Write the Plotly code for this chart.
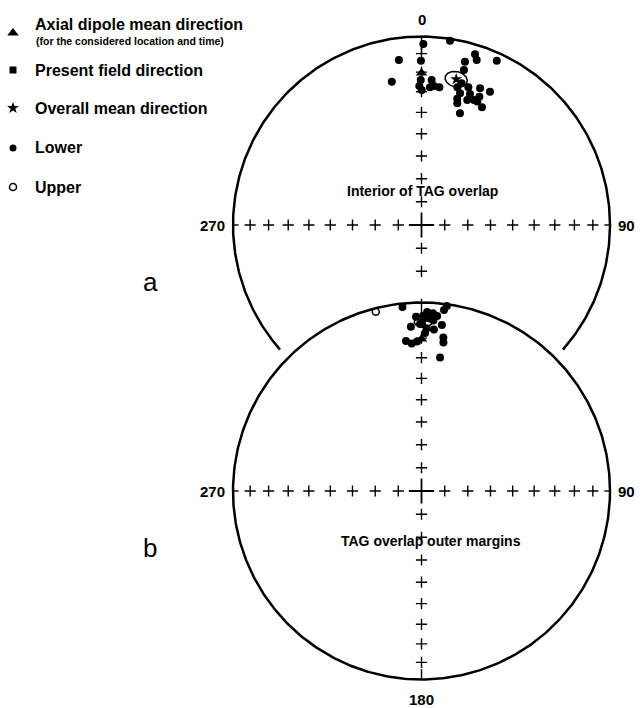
import numpy as np
import plotly.graph_objects as go

W, H = 641, 708
S = 188.5              # pixels per unit radius of each net
CX, CY = 421.5, 225.0  # pixel centre of net a
B_OFF = -266.0 / S     # vertical offset of net b centre (data units)
FONT = "Liberation Sans, Arial, sans-serif"

# ---- Net a: interior of TAG overlap (lower hemisphere, degrees) ----
a_dec = [0.6, 8.8, 352.2, 359.8, 348.3, 359.7, 359.1, 0.1, 4.0, 3.5, 5.1, 7.4,
         14.9, 15.3, 17.4, 18.5, 24.6, 14.6, 16.3, 15.8, 16.4, 19.0, 18.8, 20.3,
         22.8, 23.2, 24.3, 27.2, 27.2, 24.3, 20.1, 15.8]
a_inc = [4.5, 1.2, 12.7, 13.9, 23.4, 24.1, 27.1, 29.2, 23.9, 27.6, 26.9, 27.2,
         11.3, 15.8, 5.7, 8.5, 4.6, 25.5, 28.0, 31.0, 33.2, 37.4, 23.9, 26.8,
         28.9, 22.2, 26.3, 30.5, 21.6, 28.9, 30.1, 22.9]
a_mean_dec, a_mean_inc, a_alpha95 = 13.4, 21.6, 4.0

# ---- Net b: TAG overlap outer margins ----
b_dec = [354.1, 358.2, 1.8, 3.7, 7.1, 2.8, 359.5, 4.0, 7.0, 356.3, 1.8, 4.4,
         356.2, 358.3, 8.1, 8.4, 7.9, 0.5, 5.1, 7.8, 1.3, 354.1]
b_inc = [2.1, 8.3, 5.6, 6.2, 3.7, 9.3, 12.4, 10.3, 12.3, 13.7, 14.7, 15.2,
         22.6, 21.8, 18.9, 21.5, 29.2, 7.9, 7.6, 1.1, 17.3, 21.1]
b_up_dec = [345.7]
b_up_inc = [-2.1]
b_mean_dec, b_mean_inc, b_alpha95 = 0.6, 11.2, 3.0

# Axial dipole direction for the site
dipole_dec, dipole_inc = 0.0, 20.5

# Graticule inclinations marked along the N-S and E-W diameters
grid_inc = [80, 70, 60, 50, 40, 30, 20, 10]


def proj(dec, inc):
    """Schmidt equal-area projection, unit primitive circle."""
    d = np.radians(np.asarray(dec, float))
    i = np.radians(np.abs(np.asarray(inc, float)))
    r = np.sqrt(2.0) * np.sin((np.pi / 2 - i) / 2)
    return r * np.sin(d), r * np.cos(d)


def cone(dec, inc, a95, n=121):
    D, I = np.radians(dec), np.radians(inc)
    m = np.array([np.cos(I) * np.cos(D), np.cos(I) * np.sin(D), np.sin(I)])
    u = np.array([-np.sin(I) * np.cos(D), -np.sin(I) * np.sin(D), np.cos(I)])
    v = np.array([-np.sin(D), np.cos(D), 0.0])
    t = np.linspace(0, 2 * np.pi, n)
    a = np.radians(a95)
    vec = (np.cos(a) * m[:, None]
           + np.sin(a) * (np.cos(t) * u[:, None] + np.sin(t) * v[:, None]))
    inc_c = np.degrees(np.arcsin(vec[2]))
    dec_c = np.degrees(np.arctan2(vec[1], vec[0]))
    return proj(dec_c, inc_c)


fig = go.Figure()
LINE = dict(color="black", width=2.5)

# Primitive circles: net a is cut where net b overlaps it
th_int = np.degrees(np.arcsin(B_OFF / 2))          # intersection angle
gap = 3.5
th = np.radians(np.linspace(th_int + gap, 180 - th_int - gap, 400))
fig.add_trace(go.Scatter(x=np.cos(th), y=np.sin(th), mode="lines",
                         line=LINE, hoverinfo="skip"))
th = np.linspace(0, 2 * np.pi, 500)
fig.add_trace(go.Scatter(x=np.cos(th), y=B_OFF + np.sin(th), mode="lines",
                         line=LINE, hoverinfo="skip"))


# Graticule crosses
def crosses(y0, dirs, incs):
    xs, ys = [], []
    for d in dirs:
        x, y = proj([d] * len(incs), incs)
        xs += list(x)
        ys += list(y0 + y)
    return xs, ys


cx, cy = [], []
for (y0, spec) in [(0.0, [([0, 90, 270], grid_inc), ([180], [80, 70])]),
                   (B_OFF, [([0, 90, 180, 270], grid_inc)])]:
    for dirs, incs in spec:
        x, y = crosses(y0, dirs, incs)
        cx += x
        cy += y
fig.add_trace(go.Scatter(x=cx, y=cy, mode="markers", hoverinfo="skip",
                         marker=dict(symbol="cross-thin", size=8,
                                     line=dict(color="black", width=1.4))))
fig.add_trace(go.Scatter(x=[0, 0], y=[0, B_OFF], mode="markers", hoverinfo="skip",
                         marker=dict(symbol="cross-thin", size=18,
                                     line=dict(color="black", width=1.8))))


# Short ticks at the cardinal points of the primitive circles
def seg(y0, dec, r0, r1):
    d = np.radians(dec)
    return ([r0 * np.sin(d), r1 * np.sin(d), None],
            [y0 + r0 * np.cos(d), y0 + r1 * np.cos(d), None])


tx, ty = [], []
for y0, d, r in [(0, 0, 0.915), (0, 90, 0.97), (0, 270, 0.97),
                 (B_OFF, 0, 0.92), (B_OFF, 90, 0.97), (B_OFF, 270, 0.97),
                 (B_OFF, 180, 0.945)]:
    x, y = seg(y0, d, 1.0, r)
    tx += x
    ty += y
# remnant of the 60 degree mark south of net a centre
r60 = float(proj(180, 60)[1])
x, y = seg(0, 180, -r60 + 0.025, -r60 + 0.04)
tx += x
ty += y
fig.add_trace(go.Scatter(x=tx, y=ty, mode="lines", hoverinfo="skip",
                         line=dict(color="black", width=1.4)))

# Confidence circles about the means
for y0, md, mi, a95 in [(0.0, a_mean_dec, a_mean_inc, a_alpha95),
                        (B_OFF, b_mean_dec, b_mean_inc, b_alpha95)]:
    x, y = cone(md, mi, a95)
    fig.add_trace(go.Scatter(x=x, y=y0 + y, mode="lines", hoverinfo="skip",
                             line=dict(color="black", width=1.5)))

# Axial dipole direction
for y0 in (0.0, B_OFF):
    x, y = proj([dipole_dec], [dipole_inc])
    fig.add_trace(go.Scatter(x=x, y=y0 + y, mode="markers", hoverinfo="skip",
                             marker=dict(symbol="triangle-up", size=10, color="black")))

# Lower-hemisphere directions
for y0, dd, ii in [(0.0, a_dec, a_inc), (B_OFF, b_dec, b_inc)]:
    x, y = proj(dd, ii)
    fig.add_trace(go.Scatter(x=x, y=y0 + y, mode="markers", hoverinfo="skip",
                             marker=dict(symbol="circle", size=8, color="black")))

# Upper-hemisphere directions
x, y = proj(b_up_dec, b_up_inc)
fig.add_trace(go.Scatter(x=x, y=B_OFF + y, mode="markers", hoverinfo="skip",
                         marker=dict(symbol="circle-open", size=7, color="black",
                                     line=dict(color="black", width=1.5))))

# Mean directions (stars)
for y0, md, mi in [(0.0, a_mean_dec, a_mean_inc), (B_OFF, b_mean_dec, b_mean_inc)]:
    x, y = proj([md], [mi])
    fig.add_trace(go.Scatter(x=x, y=y0 + y, mode="markers", hoverinfo="skip",
                             marker=dict(symbol="star", size=9, color="black")))


# ---- Key ----
def to_data(px, py):
    return (px - CX) / S, (CY - py) / S


key = [("triangle-up", 10, 33, 25, "Axial dipole mean direction"),
       ("square", 7, 70, 70, "Present field direction"),
       ("star", 9, 108, 108, "Overall mean direction"),
       ("circle", 7, 148, 148, "Lower"),
       ("circle-open", 7, 187, 187, "Upper")]
anns = []


def label(text, px, py, size, xanchor="center", weight="bold"):
    anns.append(dict(text=text, x=px / W, y=1 - py / H, xref="paper", yref="paper",
                     showarrow=False, xanchor=xanchor, yanchor="middle",
                     font=dict(family=FONT, size=size, color="black", weight=weight)))


for sym, sz, my, ty_, text in key:
    x, y = to_data(13, my)
    mk = dict(symbol=sym, size=sz, color="black")
    if sym == "circle-open":
        mk["line"] = dict(color="black", width=1.5)
    fig.add_trace(go.Scatter(x=[x], y=[y], mode="markers", hoverinfo="skip", marker=mk))
    label(text, 33, ty_, 16, xanchor="left")
label("(for the considered location and time)", 34, 41, 10.5, xanchor="left")

# Net annotations
label("0", 421.5, 19, 15)
label("270", 227, 225, 15, xanchor="right")
label("90", 616, 225, 15, xanchor="left")
label("270", 227, 491, 15, xanchor="right")
label("90", 616, 491, 15, xanchor="left")
label("180", 421.5, 699, 15)
label("Interior of TAG overlap", 422, 191, 14)
label("TAG overlap outer margins", 431, 541, 14)
label("a", 150, 282, 26, weight="normal")
label("b", 150, 548, 26, weight="normal")

fig.update_layout(
    width=W, height=H, margin=dict(l=0, r=0, t=0, b=0),
    paper_bgcolor="white", plot_bgcolor="white", showlegend=False,
    annotations=anns,
    xaxis=dict(range=[-CX / S, (W - CX) / S], visible=False, fixedrange=True),
    yaxis=dict(range=[-(H - CY) / S, CY / S], visible=False, fixedrange=True),
)
fig.write_html("out.html")
